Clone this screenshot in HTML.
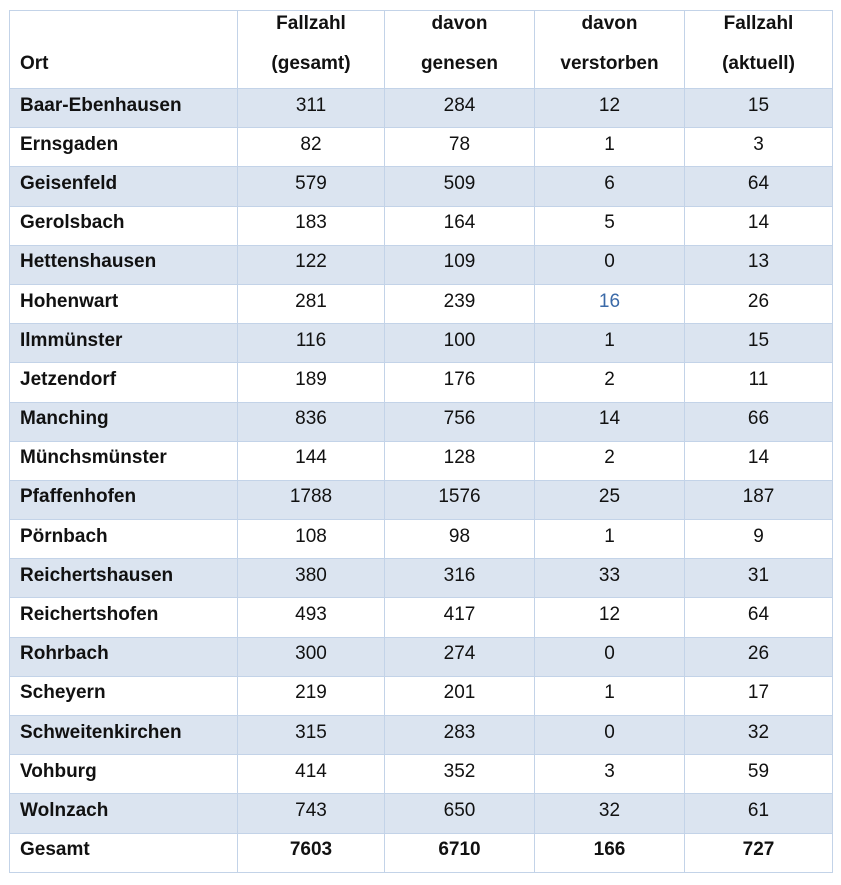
<!DOCTYPE html>
<html><head><meta charset="utf-8"><style>
html,body{margin:0;padding:0;background:#fff;width:841px;height:885px;overflow:hidden}
table{position:absolute;left:9px;top:10px;width:823px;border-collapse:collapse;table-layout:fixed;font-family:"Liberation Sans",Arial,sans-serif;font-size:19px;color:#111}
td,th{border:1.5px solid #c3d3e8;padding:0;text-align:center;vertical-align:middle;font-weight:normal;line-height:20px}
tr.h th{height:74px;font-weight:bold;vertical-align:top;padding-top:3px}
th div.a{height:40px}
td:first-child,th:first-child{text-align:left;padding-left:10px;font-weight:bold}
tr.s td{background:#dbe4f0}
td{height:33.2px;padding-bottom:5px}
tr.g td{font-weight:bold}
.b{color:#3b6aa8}
</style></head><body>
<table>
<colgroup><col style="width:228px"><col style="width:147px"><col style="width:150px"><col style="width:150px"><col style="width:148px"></colgroup>
<tr class="h"><th><div class="a"></div><div>Ort</div></th><th><div class="a">Fallzahl</div><div>(gesamt)</div></th><th><div class="a">davon</div><div>genesen</div></th><th><div class="a">davon</div><div>verstorben</div></th><th><div class="a">Fallzahl</div><div>(aktuell)</div></th></tr>
<tr class="s"><td>Baar-Ebenhausen</td><td>311</td><td>284</td><td>12</td><td>15</td></tr>
<tr><td>Ernsgaden</td><td>82</td><td>78</td><td>1</td><td>3</td></tr>
<tr class="s"><td>Geisenfeld</td><td>579</td><td>509</td><td>6</td><td>64</td></tr>
<tr><td>Gerolsbach</td><td>183</td><td>164</td><td>5</td><td>14</td></tr>
<tr class="s"><td>Hettenshausen</td><td>122</td><td>109</td><td>0</td><td>13</td></tr>
<tr><td>Hohenwart</td><td>281</td><td>239</td><td class="b">16</td><td>26</td></tr>
<tr class="s"><td>Ilmmünster</td><td>116</td><td>100</td><td>1</td><td>15</td></tr>
<tr><td>Jetzendorf</td><td>189</td><td>176</td><td>2</td><td>11</td></tr>
<tr class="s"><td>Manching</td><td>836</td><td>756</td><td>14</td><td>66</td></tr>
<tr><td>Münchsmünster</td><td>144</td><td>128</td><td>2</td><td>14</td></tr>
<tr class="s"><td>Pfaffenhofen</td><td>1788</td><td>1576</td><td>25</td><td>187</td></tr>
<tr><td>Pörnbach</td><td>108</td><td>98</td><td>1</td><td>9</td></tr>
<tr class="s"><td>Reichertshausen</td><td>380</td><td>316</td><td>33</td><td>31</td></tr>
<tr><td>Reichertshofen</td><td>493</td><td>417</td><td>12</td><td>64</td></tr>
<tr class="s"><td>Rohrbach</td><td>300</td><td>274</td><td>0</td><td>26</td></tr>
<tr><td>Scheyern</td><td>219</td><td>201</td><td>1</td><td>17</td></tr>
<tr class="s"><td>Schweitenkirchen</td><td>315</td><td>283</td><td>0</td><td>32</td></tr>
<tr><td>Vohburg</td><td>414</td><td>352</td><td>3</td><td>59</td></tr>
<tr class="s"><td>Wolnzach</td><td>743</td><td>650</td><td>32</td><td>61</td></tr>
<tr class="g"><td>Gesamt</td><td>7603</td><td>6710</td><td>166</td><td>727</td></tr>
</table>
</body></html>
